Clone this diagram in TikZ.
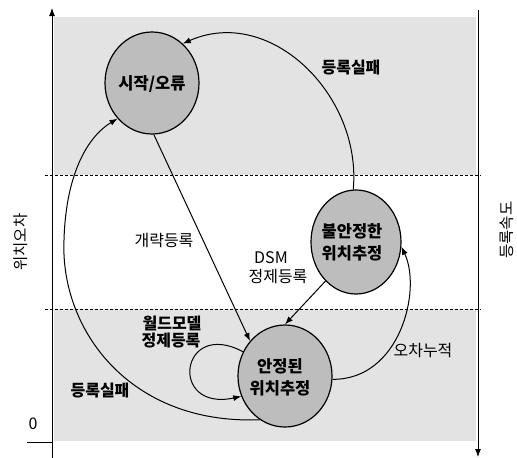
\documentclass[tikz,border=0pt]{standalone}
\usepackage{fontspec}
\setmainfont{Noto Sans CJK KR}
\usetikzlibrary{shapes.geometric,arrows.meta}
\tikzset{
  zone/.style={fill=gray!22, draw=none},
  sep/.style={draw=black, line width=0.9pt, dash pattern=on 3pt off 2pt},
  axisline/.style={draw=black, line width=0.9pt},
  state/.style={ellipse, draw=black, line width=1.2pt, fill=gray!52, inner sep=0pt},
  statetxt/.style={font=\fontsize{16.5pt}{22pt}\selectfont\bfseries, align=center, inner sep=0pt},
  lbl/.style={font=\fontsize{16pt}{18pt}\selectfont, inner sep=0pt},
  blbl/.style={font=\fontsize{16pt}{18pt}\selectfont\bfseries, inner sep=0pt},
  sidelbl/.style={font=\fontsize{15.5pt}{18pt}\selectfont, inner sep=0pt, rotate=90},
  conn/.style={draw=black, line width=1pt, -{Latex[length=8pt,width=6pt]}},
  axarrow/.style={-{Latex[length=8pt,width=6pt]}}
}
\begin{document}
\begin{tikzpicture}[x=1pt,y=-1pt]
\useasboundingbox (0,0) rectangle (517,458);
% shaded zones
\path[zone] (54,17) rectangle (476,175);
\path[zone] (54,309) rectangle (476,441);
% dashed separators
\coordinate (s1l) at (45,175); \coordinate (s1r) at (481,175);
\coordinate (s2l) at (45,309); \coordinate (s2r) at (481,309);
\draw[sep] (s1l) -- (s1r);
\draw[sep] (s2l) -- (s2r);
% axes
\coordinate (ybot) at (52,458); \coordinate (ytop) at (52,8);
\coordinate (rtop) at (478,10); \coordinate (rbot) at (478,457);
\coordinate (zl) at (27,442); \coordinate (zr) at (52,442);
\draw[axisline, axarrow] (ybot) -- (ytop);
\draw[axisline, axarrow] (rtop) -- (rbot);
\draw[axisline] (zl) -- (zr);
\node[lbl] (zero) at (33,424) {0};
\node[sidelbl] (ylab) at (21,242) {위치오차};
\node[sidelbl] (rlab) at (507,230) {등록속도};
% states
\node[state, minimum width=94pt, minimum height=102pt] (start) at (152,83) {};
\node[state, minimum width=90pt, minimum height=104pt] (unst) at (356,242) {};
\node[state, minimum width=94pt, minimum height=102pt] (stab) at (285,376) {};
\node[statetxt] (starttxt) at (152,84) {시작/오류};
\node[statetxt] (unsttxt) at (352,242) {불안정한\\위치추정};
\node[statetxt] (stabtxt) at (280,377) {안정된\\위치추정};
% connectors
\draw[conn] (start.-88) -- (stab.135);
\draw[conn] (unst.93) .. controls (362,95) and (270,5) .. (start.52);
\draw[conn] (unst.-128) -- (stab.90);
\draw[conn] (stab.-4) .. controls (400,380) and (422,290) .. (unst.-6);
\draw[conn] (stab.150) .. controls (180,318) and (168,412) .. (stab.205);
\coordinate (m6) at (64,240);
\draw[conn] (stab.-120) .. controls (130,425) and (60,330) .. (m6)
   .. controls (66,170) and (90,135) .. (start.-134);
% labels
\node[blbl] (l1) at (351,68) {등록실패};
\node[lbl] (l2) at (164,241) {개략등록};
\node[lbl] (l3a) at (271,258) {DSM};
\node[lbl] (l3b) at (278,277) {정제등록};
\node[blbl] (l4a) at (172,323) {월드모델};
\node[blbl] (l4b) at (171,341) {정제등록};
\node[blbl] (l5) at (100,391) {등록실패};
\node[lbl] (l6) at (423,351) {오차누적};
\end{tikzpicture}
\end{document}
